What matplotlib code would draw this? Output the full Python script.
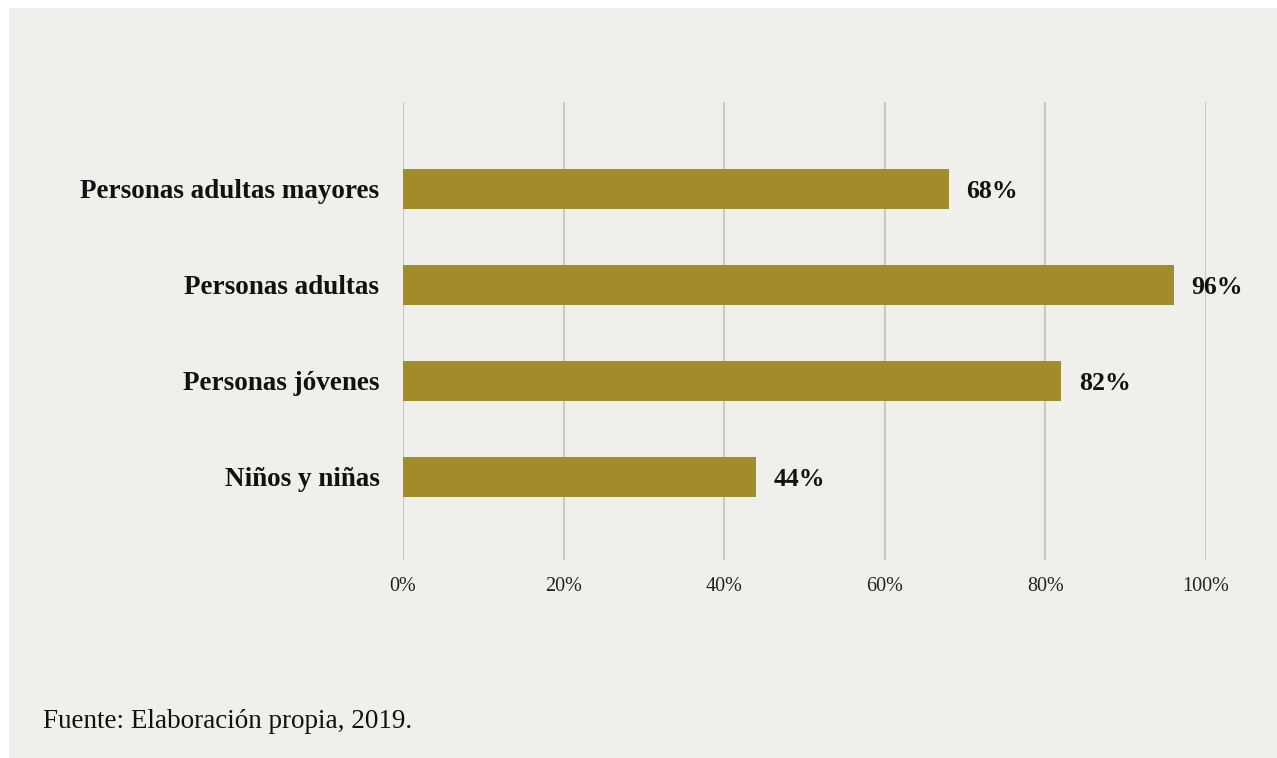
import matplotlib.pyplot as plt
from matplotlib.patches import Rectangle
from matplotlib.ticker import FuncFormatter

categorias = ['Personas adultas mayores', 'Personas adultas', 'Personas jóvenes', 'Niños y niñas']
porcentajes = [68, 96, 82, 44]
ticks = [0, 20, 40, 60, 80, 100]
fuente = 'Fuente: Elaboración propia, 2019.'

fondo = '#efefeb'
dorado = '#a38b2b'
serif = ['Liberation Serif', 'DejaVu Serif']

plt.rcParams['font.family'] = serif

W, H = 1277, 758
fig = plt.figure(figsize=(W / 100, H / 100), dpi=100)
fig.patch.set_facecolor('white')

# panel gris de fondo
fig.add_artist(Rectangle((9 / W, 0), 1 - 9 / W, 1 - 8 / H, transform=fig.transFigure,
                         facecolor=fondo, edgecolor='none', zorder=0))

ax = fig.add_axes([403 / W, 1 - 560 / H, (1206 - 403) / W, (560 - 102) / H])
ax.set_facecolor('none')

pos = list(range(len(categorias)))[::-1]
ax.barh(pos, porcentajes, height=0.42, color=dorado, zorder=3)

for y, v in zip(pos, porcentajes):
    ax.annotate(f'{v}%', (v, y), xytext=(12.5, -2), textcoords='offset points',
                ha='left', va='center', fontsize=18.5, fontweight='bold', color='#111111')

ax.set_xlim(0, 100)
ax.set_ylim(-0.865, 3.906)
ax.set_xticks(ticks)
ax.xaxis.set_major_formatter(FuncFormatter(lambda x, _: f'{x:.0f}%'))
ax.set_yticks(pos)
ax.set_yticklabels(categorias, fontsize=19.5, fontweight='bold', color='#111111')
ax.tick_params(axis='x', length=0, pad=12, labelsize=14.5, labelcolor='#222222')
ax.tick_params(axis='y', length=0, pad=17)
ax.grid(axis='x', color='#c9c9c9', linewidth=1.5, zorder=1)
for s in ax.spines.values():
    s.set_visible(False)

fig.text(43 / W, 1 - 721 / H, fuente, ha='left', va='center', fontsize=19.5, color='#111111')

fig.savefig('out.png', dpi=100, facecolor=fig.get_facecolor())
